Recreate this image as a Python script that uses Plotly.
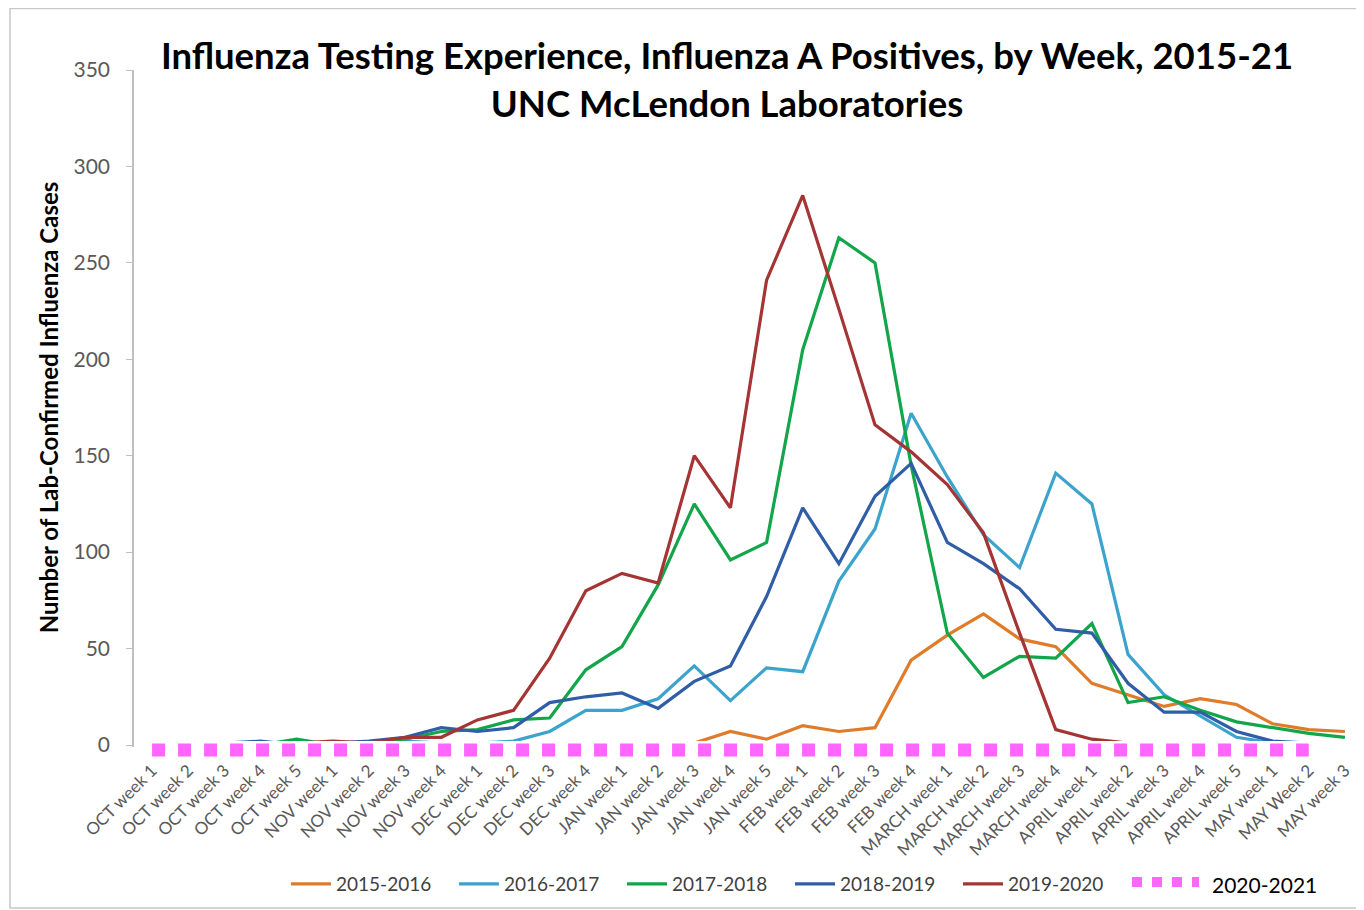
import plotly.graph_objects as go

# week categories (x axis)
weeks = [
    "OCT week 1", "OCT week 2", "OCT week 3", "OCT week 4", "OCT week 5",
    "NOV week 1", "NOV week 2", "NOV week 3", "NOV week 4",
    "DEC week 1", "DEC week 2", "DEC week 3", "DEC week 4",
    "JAN week 1", "JAN week 2", "JAN week 3", "JAN week 4", "JAN week 5",
    "FEB week 1", "FEB week 2", "FEB week 3", "FEB week 4",
    "MARCH week 1", "MARCH week 2", "MARCH week 3", "MARCH week 4",
    "APRIL week 1", "APRIL week 2", "APRIL week 3", "APRIL week 4", "APRIL week 5",
    "MAY week 1", "MAY Week 2", "MAY week 3",
]

# influenza A positives per season
s2015_16 = [0, 0, 0, 0, 0, 0, 0, 0, 0, 0, 0, 0, 0, 1, 1, 1, 7, 3,
            10, 7, 9, 44, 57, 68, 55, 51, 32, 26, 20, 24, 21, 11, 8, 7]
s2016_17 = [0, 0, 0, 0, 0, 0, 1, 2, 1, 1, 2, 7, 18, 18, 24, 41, 23, 40,
            38, 85, 112, 172, 139, 109, 92, 141, 125, 47, 26, 15, 4, 1, 0, 0]
s2017_18 = [0, 0, 0, 0, 3, 0, 0, 3, 7, 8, 13, 14, 39, 51, 83, 125, 96, 105,
            205, 263, 250, 145, 58, 35, 46, 45, 63, 22, 25, 18, 12, 9, 6, 4]
s2018_19 = [0, 1, 1, 2, 0, 1, 2, 4, 9, 7, 9, 22, 25, 27, 19, 33, 41, 77,
            123, 94, 129, 146, 105, 94, 81, 60, 58, 32, 17, 17, 7, 2, 1, 0]
s2019_20 = [1, 1, 1, 1, 1, 2, 1, 4, 4, 13, 18, 45, 80, 89, 84, 150, 123, 241,
            285, 226, 166, 152, 135, 110, 58, 8, 3, 1, 1, 0, 0, 0, 0, 0]
s2020_21 = [0] * 33 + [None]

series = [
    ("2015-2016", s2015_16, "#E07B2A"),
    ("2016-2017", s2016_17, "#3BA3CC"),
    ("2017-2018", s2017_18, "#13A54A"),
    ("2018-2019", s2018_19, "#2F5EA6"),
    ("2019-2020", s2019_20, "#A53434"),
]

PINK = "#FF66FF"

# figure geometry (px) -> paper coords, used for the frame and the fake legend key
L, T, W, H, B = 126, 62, 1356, 902, 147
PW, PH = W - L - 1, H - T - B


def px(x):
    return (x - L) / PW


def py(y):
    return (H - B - y) / PH


fig = go.Figure()

for name, vals, col in series:
    fig.add_trace(go.Scatter(
        x=weeks, y=vals, name=name, mode="lines",
        line=dict(color=col, width=3.2),
    ))

# 2020-21 sits just under the axis line, so it gets its own thin strip
fig.add_trace(go.Scatter(
    x=weeks, y=s2020_21, yaxis="y2", mode="lines", name="2020-2021",
    line=dict(color=PINK, width=13, dash="13px,13px"),
    showlegend=False,
))

# legend key for 2020-2021: four small squares + black label
key_shapes = []
for x0, x1 in [(1124, 1134), (1144, 1154), (1164, 1174), (1184, 1191)]:
    key_shapes.append(dict(
        type="rect", xref="paper", yref="paper",
        x0=px(x0), x1=px(x1), y0=py(879), y1=py(869),
        fillcolor=PINK, line=dict(width=0),
    ))

fig.update_layout(
    width=W, height=H,
    margin=dict(l=L, r=1, t=T, b=B),
    paper_bgcolor="white", plot_bgcolor="white",
    font=dict(family="Lato, sans-serif", color="#595959"),
    title=dict(
        text="Influenza Testing Experience, Influenza A Positives, by Week, 2015-21<br>UNC McLendon Laboratories",
        font=dict(family="Lato, sans-serif", size=36.5, color="black", weight="bold"),
        x=0.4825, xanchor="center", xref="paper",
        y=0.932, yanchor="middle", yref="container",
    ),
    showlegend=True,
    legend=dict(
        orientation="h", x=px(278), xanchor="left", y=py(876), yanchor="middle",
        font=dict(size=19, color="#404040"),
        itemwidth=40,
        entrywidth=113, entrywidthmode="pixels",
        bgcolor="rgba(0,0,0,0)",
    ),
    yaxis2=dict(domain=[0, py(733)], range=[-0.59, 0.41], visible=False,
                fixedrange=True),
    shapes=[dict(
        type="rect", xref="paper", yref="paper",
        x0=px(2), x1=px(1354), y0=py(900), y1=py(0.5),
        line=dict(color="#C8C8C8", width=1.5), layer="below",
    )] + key_shapes,
    annotations=[dict(
        text="2020-2021", xref="paper", yref="paper",
        x=px(1202), y=py(876), xanchor="left", yanchor="middle",
        showarrow=False, font=dict(size=21, color="black"),
    )],
)

fig.update_xaxes(
    type="category", range=[-0.5, 33.5], anchor="y",
    tickangle=-45, tickfont=dict(size=17, color="#595959"),
    showline=True, linecolor="#BFBFBF", linewidth=1.5,
    ticks="outside", tickson="boundaries", ticklen=4, tickcolor="#BFBFBF",
    ticklabelstandoff=7,
    showgrid=False, zeroline=False,
)

fig.update_layout(yaxis=dict(
    domain=[py(737), 1], range=[0, 350], dtick=50,
    tickfont=dict(size=21, color="#595959"),
    showline=True, linecolor="#BFBFBF", linewidth=1.5,
    ticks="outside", ticklen=6, tickcolor="#BFBFBF",
    ticklabelstandoff=12,
    showgrid=False, zeroline=False,
    title=dict(text="Number of Lab-Confirmed Influenza Cases",
               font=dict(size=24, color="black", weight="bold"), standoff=8),
))

fig.write_html("out.html")
